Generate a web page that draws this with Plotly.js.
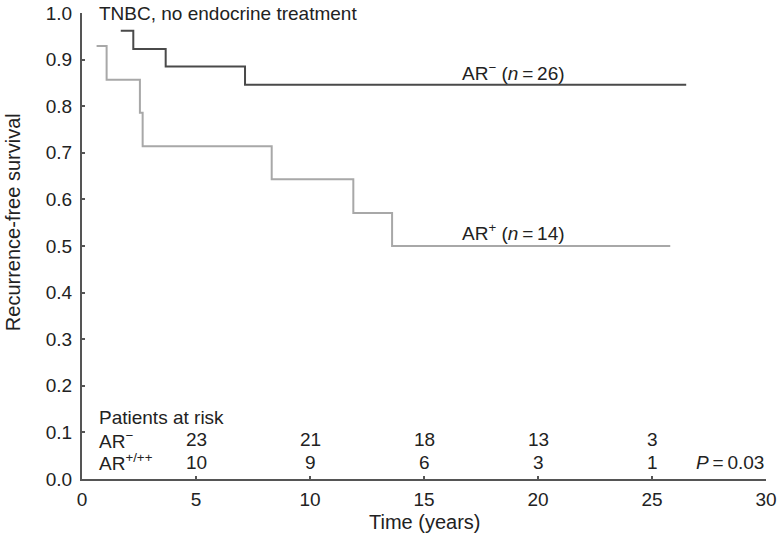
<!DOCTYPE html>
<html>
<head>
<meta charset="utf-8">
<script src="https://cdn.plot.ly/plotly-3.0.1.min.js"></script>
<style>
  html, body { margin: 0; padding: 0; background: #fff; }
  #km { width: 779px; height: 543px; }
</style>
</head>
<body>
<div id="km"></div>
<script>
// Kaplan-Meier steps
var arNegTime = [1.7, 2.25, 3.67, 7.15, 26.5];
var arNegSurv = [0.962, 0.923, 0.885, 0.846, 0.846];

var arPosTime = [0.64, 1.08, 2.54, 2.66, 8.32, 11.9, 13.6, 25.8];
var arPosSurv = [0.929, 0.857, 0.786, 0.714, 0.643, 0.571, 0.5, 0.5];

// patients at risk table
var riskTimes = [5, 10, 15, 20, 25];
var riskNeg = [23, 21, 18, 13, 3];
var riskPos = [10, 9, 6, 3, 1];

var xTicks = [0, 5, 10, 15, 20, 25, 30];
var yTicks = [0, 0.1, 0.2, 0.3, 0.4, 0.5, 0.6, 0.7, 0.8, 0.9, 1.0];

var fontFam = 'Liberation Sans, Arial, sans-serif';
var txtCol = '#222';
var eq = '\u2009=\u2009';

var traceNeg = {
    x: arNegTime,
    y: arNegSurv,
    type: 'scatter',
    mode: 'lines',
    line: {shape: 'hv', color: '#4a4a4a', width: 2},
    hoverinfo: 'skip'
};

var tracePos = {
    x: arPosTime,
    y: arPosSurv,
    type: 'scatter',
    mode: 'lines',
    line: {shape: 'hv', color: '#a8a8a8', width: 2},
    hoverinfo: 'skip'
};

var annotations = [
    {text: 'TNBC, no endocrine treatment', xref: 'paper', yref: 'paper', x: 0.022, y: 1.0, xanchor: 'left', yanchor: 'middle'},
    {text: 'AR<sup>\u2212</sup> (<i>n</i>' + eq + '26)', xref: 'x', yref: 'y', x: 16.6, y: 0.874, xanchor: 'left', yanchor: 'middle'},
    {text: 'AR<sup>+</sup> (<i>n</i>' + eq + '14)', xref: 'x', yref: 'y', x: 16.6, y: 0.529, xanchor: 'left', yanchor: 'middle'},
    {text: 'Patients at risk', xref: 'paper', yref: 'y', x: 0.022, y: 0.133, xanchor: 'left', yanchor: 'middle'},
    {text: 'AR<sup>\u2212</sup>', xref: 'paper', yref: 'y', x: 0.022, y: 0.084, xanchor: 'left', yanchor: 'middle'},
    {text: 'AR<sup>+/++</sup>', xref: 'paper', yref: 'y', x: 0.022, y: 0.036, xanchor: 'left', yanchor: 'middle'},
    {text: '<i>P</i>' + eq + '0.03', xref: 'paper', yref: 'y', x: 1.0, y: 0.036, xanchor: 'right', yanchor: 'middle'},
    {text: 'Time (years)', xref: 'x', yref: 'paper', x: 15, y: -0.092, xanchor: 'center', yanchor: 'middle', font: {size: 20}},
    {text: 'Recurrence-free survival', xref: 'paper', yref: 'paper', x: -0.101, y: 0.551, textangle: -90, xanchor: 'center', yanchor: 'middle', font: {size: 20}}
];

for (var i = 0; i < riskTimes.length; i++) {
    annotations.push({text: String(riskNeg[i]), xref: 'x', yref: 'y', x: riskTimes[i], y: 0.084, xanchor: 'center', yanchor: 'middle'});
    annotations.push({text: String(riskPos[i]), xref: 'x', yref: 'y', x: riskTimes[i], y: 0.036, xanchor: 'center', yanchor: 'middle'});
}

annotations.forEach(function (a) {
    a.showarrow = false;
    if (!a.font) a.font = {size: 19};
    a.font.family = fontFam;
    a.font.color = txtCol;
});

var layout = {
    width: 779,
    height: 543,
    margin: {l: 82, r: 13, t: 13, b: 64},
    paper_bgcolor: '#fff',
    plot_bgcolor: '#fff',
    showlegend: false,
    font: {family: fontFam, size: 19, color: txtCol},
    xaxis: {
        range: [0, 30],
        tickvals: xTicks,
        ticktext: xTicks.map(String),
        showgrid: false,
        zeroline: false,
        showline: true,
        linecolor: '#555',
        linewidth: 2,
        ticks: 'inside',
        ticklen: 3,
        tickwidth: 2,
        tickcolor: '#555',
        ticklabelstandoff: 2,
        tickfont: {size: 19, color: txtCol}
    },
    yaxis: {
        range: [0, 1],
        tickvals: yTicks,
        ticktext: yTicks.map(function (v) { return v.toFixed(1); }),
        showgrid: false,
        zeroline: false,
        showline: true,
        linecolor: '#555',
        linewidth: 2,
        ticks: 'inside',
        ticklen: 3,
        tickwidth: 2,
        tickcolor: '#555',
        ticklabelstandoff: 4,
        tickfont: {size: 19, color: txtCol}
    },
    annotations: annotations
};

Plotly.newPlot('km', [traceNeg, tracePos], layout, {staticPlot: true});
</script>
</body>
</html>
